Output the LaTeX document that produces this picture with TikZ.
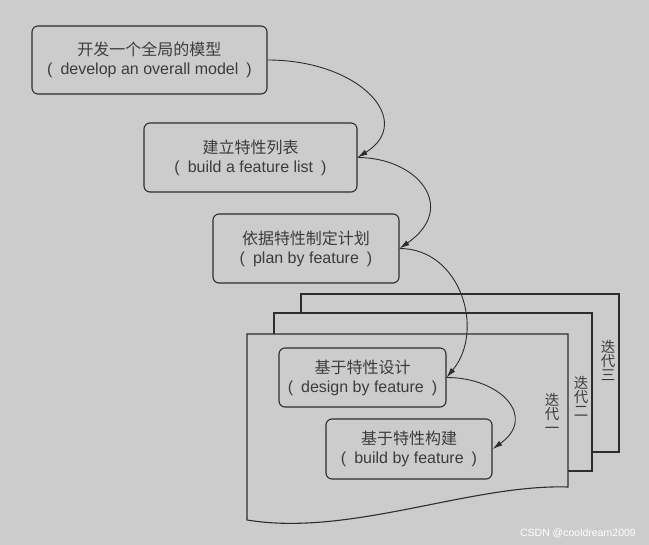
\documentclass[tikz,border=0pt]{standalone}
\usepackage{fontspec}
\setmainfont{Liberation Sans}
\newfontfamily\cjk{Noto Sans CJK SC}
\usetikzlibrary{arrows.meta}
\definecolor{bg}{RGB}{204,204,204}
\definecolor{ink}{RGB}{45,45,45}
\definecolor{txt}{RGB}{60,60,60}
\newcommand\kuo[1]{(\hspace{0.5em}#1\hspace{0.5em})}

\begin{document}
\begin{tikzpicture}[x=1pt,y=1pt,
    stage/.style={draw=ink, line width=1.1pt, rounded corners=6pt, fill=bg, text=txt,
                  align=center, inner sep=0pt, font=\fontsize{16}{19}\selectfont},
    sheet/.style={draw=ink, line width=1.1pt, fill=bg},
    flow/.style={draw=ink, line width=0.9pt, -{Latex[length=10pt,width=5.5pt]}},
    tag/.style={text=txt, align=center, inner sep=0pt, font=\cjk\fontsize{14.5}{14}\selectfont}]
    % Фон
    \fill[bg] (0,0) rectangle (649,-545);
    \useasboundingbox (0,0) rectangle (649,-545);

    % Листы итераций (сзади вперёд)
    \draw[sheet] (301,-294) rectangle (619,-452);
    \draw[sheet] (274,-313) rectangle (592,-471);
    \draw[sheet] (247,-334) -- (568,-334) -- (568,-487)
        .. controls (470,-484) and (350,-537) .. (247,-520) -- cycle;
    \node[tag] (iter3) at (608,-360) {迭\\代\\三};
    \node[tag] (iter2) at (581,-396) {迭\\代\\二};
    \node[tag] (iter1) at (552,-413) {迭\\代\\一};

    % Этапы
    \node[stage, minimum width=235pt, minimum height=68pt] (model) at (149.5,-60)
        {{\cjk 开发一个全局的模型}\\\kuo{develop an overall model}};
    \node[stage, minimum width=213pt, minimum height=69pt] (list) at (250.5,-157.5)
        {{\cjk 建立特性列表}\\\kuo{build a feature list}};
    \node[stage, minimum width=186pt, minimum height=69pt] (plan) at (306,-248.5)
        {{\cjk 依据特性制定计划}\\\kuo{plan by feature}};
    \node[stage, minimum width=167pt, minimum height=59pt] (design) at (362.5,-377.5)
        {{\cjk 基于特性设计}\\\kuo{design by feature}};
    \node[stage, minimum width=166pt, minimum height=60pt] (build) at (409,-449)
        {{\cjk 基于特性构建}\\\kuo{build by feature}};

    % Переходы
    \draw[flow] (model.east) .. controls +(93,0) and +(58,36) .. (list.east);
    \draw[flow] (list.east) .. controls +(60,0) and +(59,41) .. (plan.east);
    \draw[flow] (plan.east) .. controls +(61,0) and +(39,47) .. (design.east);
    \draw[flow] (design.east) .. controls +(54,0) and +(45,32) .. (build.east);

    % Подпись
    \node[text=white, anchor=east, inner sep=0pt, font=\fontsize{10.5}{12}\selectfont]
        (mark) at (636,-533) {CSDN @cooldream2009};
\end{tikzpicture}
\end{document}
